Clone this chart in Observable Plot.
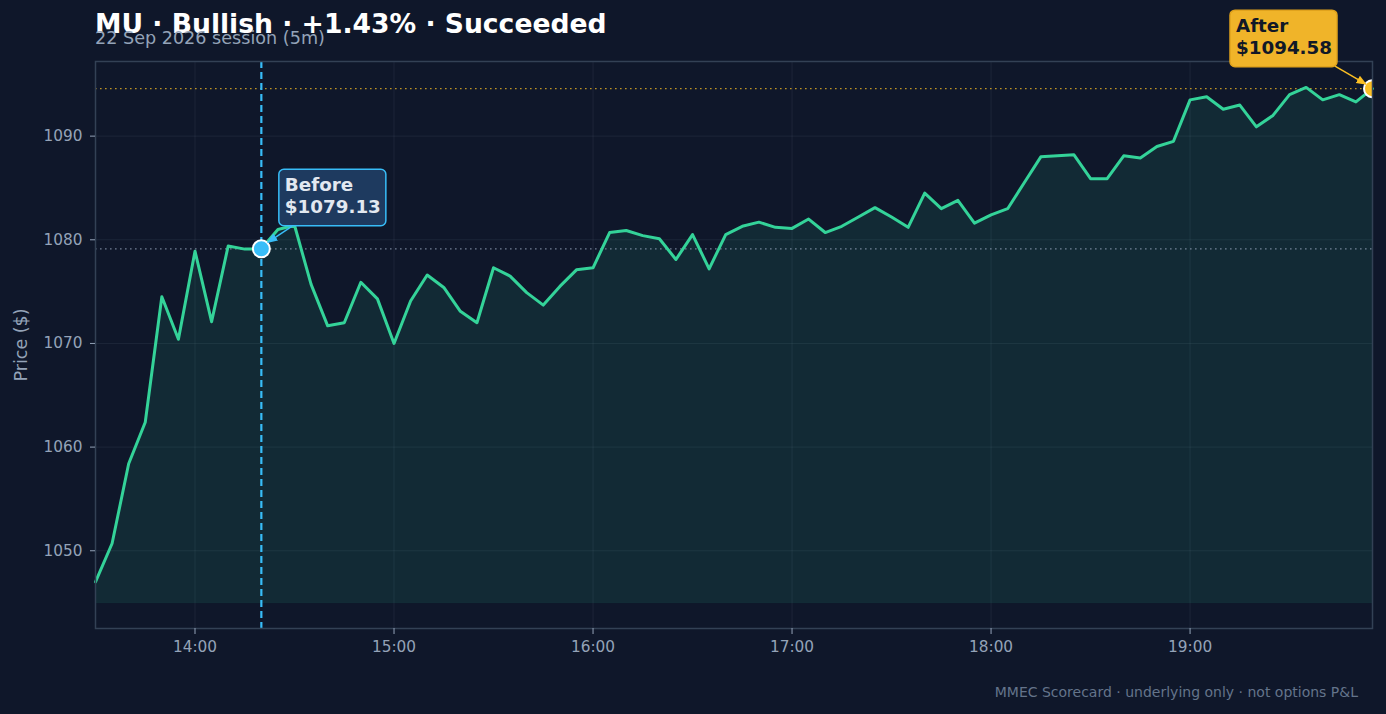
<!DOCTYPE html>
<html>
<head>
<meta charset="utf-8">
<script src="https://cdn.jsdelivr.net/npm/d3@7"></script>
<script src="https://cdn.jsdelivr.net/npm/@observablehq/plot@0.6"></script>
<style>
  html, body { margin: 0; padding: 0; background: #0f172a; }
  #wrap { position: relative; width: 1386px; height: 714px; overflow: hidden; font-family: "DejaVu Sans", sans-serif; }
  #chart { position: absolute; left: 0; top: 0; }
  .title { position: absolute; left: 95px; top: 10.6px; font-size: 26.6px; font-weight: bold; color: #ffffff; line-height: 1; white-space: nowrap; }
  .subtitle { position: absolute; left: 95px; top: 30.2px; font-size: 17.6px; color: #94a3b8; line-height: 1; white-space: nowrap; }
  .ylabel { position: absolute; left: 22px; top: 345px; font-size: 17.5px; color: #94a3b8; line-height: 1; white-space: nowrap; transform: translate(-50%, -50%) rotate(-90deg); }
  .caption { position: absolute; right: 28px; top: 685px; font-size: 14px; color: #64748b; line-height: 1; white-space: nowrap; }
</style>
</head>
<body>
<div id="wrap">
  <div id="chart"></div>
  <div class="title">MU · Bullish · +1.43% · Succeeded</div>
  <div class="subtitle">22 Sep 2026 session (5m)</div>
  <div class="ylabel">Price ($)</div>
  <div class="caption">MMEC Scorecard · underlying only · not options P&amp;L</div>
</div>
<script>
const sessionDate = "2026-09-22";
const times = [
  "13:30","13:35","13:40","13:45","13:50","13:55",
  "14:00","14:05","14:10","14:15","14:20","14:25","14:30","14:35","14:40","14:45","14:50","14:55",
  "15:00","15:05","15:10","15:15","15:20","15:25","15:30","15:35","15:40","15:45","15:50","15:55",
  "16:00","16:05","16:10","16:15","16:20","16:25","16:30","16:35","16:40","16:45","16:50","16:55",
  "17:00","17:05","17:10","17:15","17:20","17:25","17:30","17:35","17:40","17:45","17:50","17:55",
  "18:00","18:05","18:10","18:15","18:20","18:25","18:30","18:35","18:40","18:45","18:50","18:55",
  "19:00","19:05","19:10","19:15","19:20","19:25","19:30","19:35","19:40","19:45","19:50","19:55"
];
const prices = [
  1047.0, 1050.7, 1058.4, 1062.4, 1074.5, 1070.4,
  1078.9, 1072.1, 1079.4, 1079.1, 1079.13, 1081.0, 1081.4, 1075.7, 1071.7, 1072.0, 1075.9, 1074.3,
  1070.0, 1074.1, 1076.6, 1075.4, 1073.1, 1072.0, 1077.3, 1076.5, 1074.9, 1073.7, 1075.5, 1077.1,
  1077.3, 1080.7, 1080.9, 1080.4, 1080.1, 1078.1, 1080.5, 1077.2, 1080.5, 1081.3, 1081.7, 1081.2,
  1081.1, 1082.0, 1080.7, 1081.3, 1082.2, 1083.1, 1082.2, 1081.2, 1084.5, 1083.0, 1083.8, 1081.6,
  1082.4, 1083.0, 1085.5, 1088.0, 1088.1, 1088.2, 1085.9, 1085.9, 1088.1, 1087.9, 1089.0, 1089.5,
  1093.5, 1093.8, 1092.6, 1093.0, 1090.9, 1092.0, 1094.0, 1094.7, 1093.5, 1094.0, 1093.3, 1094.58
];
const beforeTime = "14:20";
const beforePrice = 1079.13;
const afterTime = "19:55";
const afterPrice = 1094.58;
const beforeLabel = ["Before", "$1079.13"];
const afterLabel = ["After", "$1094.58"];
const xTickLabels = ["14:00","15:00","16:00","17:00","18:00","19:00"];
const yTicks = [1050, 1060, 1070, 1080, 1090];
const yDomain = [1042.5, 1097.2];
const areaBase = 1045.0;

const toDate = t => new Date(`${sessionDate}T${t}:00Z`);
const data = times.map((t, i) => ({t: toDate(t), p: prices[i]}));
const xTicks = xTickLabels.map(toDate);
const beforePt = [{t: toDate(beforeTime), p: beforePrice}];
const afterPt = [{t: toDate(afterTime), p: afterPrice}];

const chart = Plot.plot({
  width: 1386,
  height: 714,
  marginLeft: 95,
  marginRight: 14,
  marginTop: 61,
  marginBottom: 86,
  style: {background: "transparent", fontFamily: "DejaVu Sans, sans-serif", overflow: "visible"},
  x: {type: "utc", domain: [data[0].t, data[data.length - 1].t]},
  y: {domain: yDomain},
  marks: [
    Plot.gridX(xTicks, {stroke: "#94a3b8", strokeOpacity: 0.1, strokeWidth: 1}),
    Plot.gridY(yTicks, {stroke: "#94a3b8", strokeOpacity: 0.1, strokeWidth: 1}),
    Plot.areaY(data, {x: "t", y1: areaBase, y2: "p", fill: "#34d399", fillOpacity: 0.1}),
    Plot.ruleY([areaBase], {stroke: "#34d399", strokeOpacity: 0.12}),
    Plot.ruleY([beforePrice], {stroke: "#94a3b8", strokeOpacity: 0.75, strokeWidth: 1.3, strokeDasharray: "1.6,3.4"}),
    Plot.ruleY([afterPrice], {stroke: "#fbbf24", strokeOpacity: 0.75, strokeWidth: 1.3, strokeDasharray: "1.6,3.4"}),
    Plot.lineY(data, {x: "t", y: "p", stroke: "#34d399", strokeWidth: 3, strokeLinejoin: "round"}),
    Plot.ruleX(beforePt, {x: "t", stroke: "#38bdf8", strokeWidth: 2.2, strokeDasharray: "7,4"}),
    Plot.dot(beforePt, {x: "t", y: "p", r: 8.5, fill: "#38bdf8", stroke: "#ffffff", strokeWidth: 2}),
    Plot.dot(afterPt, {x: "t", y: "p", r: 8.5, fill: "#fbbf24", stroke: "#ffffff", strokeWidth: 2, clip: true}),
    Plot.frame({stroke: "#334155", strokeWidth: 1.5}),
    Plot.axisX(xTicks, {tickFormat: d3.utcFormat("%H:%M"), tickSize: 6, tickPadding: 7, fontSize: 15.3, color: "#94a3b8", label: null}),
    Plot.axisY(yTicks, {tickFormat: d => d.toFixed(0), tickSize: 5, tickPadding: 8, fontSize: 15.3, color: "#94a3b8", label: null})
  ]
});
document.getElementById("chart").append(chart);

// annotation callouts, positioned from the plot's own scales
const xs = chart.scale("x"), ys = chart.scale("y");
const svg = d3.select(chart);
const defs = svg.append("defs");
function marker(id, color) {
  defs.append("marker").attr("id", id).attr("viewBox", "0 0 10 10").attr("refX", 9).attr("refY", 5)
    .attr("markerWidth", 7).attr("markerHeight", 7).attr("orient", "auto-start-reverse")
    .append("path").attr("d", "M0,1L10,5L0,9z").attr("fill", color);
}
marker("arrB", "#38bdf8");
marker("arrA", "#fbbf24");

function callout(pt, lines, o) {
  const px = xs.apply(pt.t), py = ys.apply(pt.p);
  const g = svg.append("g").attr("text-anchor", "start");
  g.append("line")
    .attr("x1", px + o.ax1).attr("y1", py + o.ay1)
    .attr("x2", px + o.ax2).attr("y2", py + o.ay2)
    .attr("stroke", o.arrow).attr("stroke-width", 1.5).attr("marker-end", `url(#${o.marker})`);
  const rect = g.append("rect");
  const text = g.append("text")
    .attr("text-anchor", "start")
    .attr("font-family", "DejaVu Sans, sans-serif").attr("font-size", 18.3).attr("font-weight", "bold")
    .attr("fill", o.color);
  lines.forEach((s, i) => {
    text.append("tspan").attr("x", px + o.tx).attr("y", py + o.ty + i * 21.5).text(s);
  });
  const bb = text.node().getBBox();
  rect.attr("x", bb.x - 6).attr("y", bb.y - 5).attr("width", bb.width + 11).attr("height", bb.height + 14)
    .attr("rx", 5).attr("fill", o.fill).attr("stroke", o.stroke).attr("stroke-width", 1.5);
}
callout(beforePt[0], beforeLabel, {
  tx: 24, ty: -57, ax1: 31, ay1: -22, ax2: 7, ay2: -6,
  color: "#e2e8f0", fill: "#1e3a5f", stroke: "#38bdf8", arrow: "#38bdf8", marker: "arrB"
});
callout(afterPt[0], afterLabel, {
  tx: -136, ty: -56, ax1: -37, ay1: -22, ax2: -6, ay2: -4,
  color: "#111827", fill: "#f0b429", stroke: "#e0a21c", arrow: "#fbbf24", marker: "arrA"
});
</script>
</body>
</html>
